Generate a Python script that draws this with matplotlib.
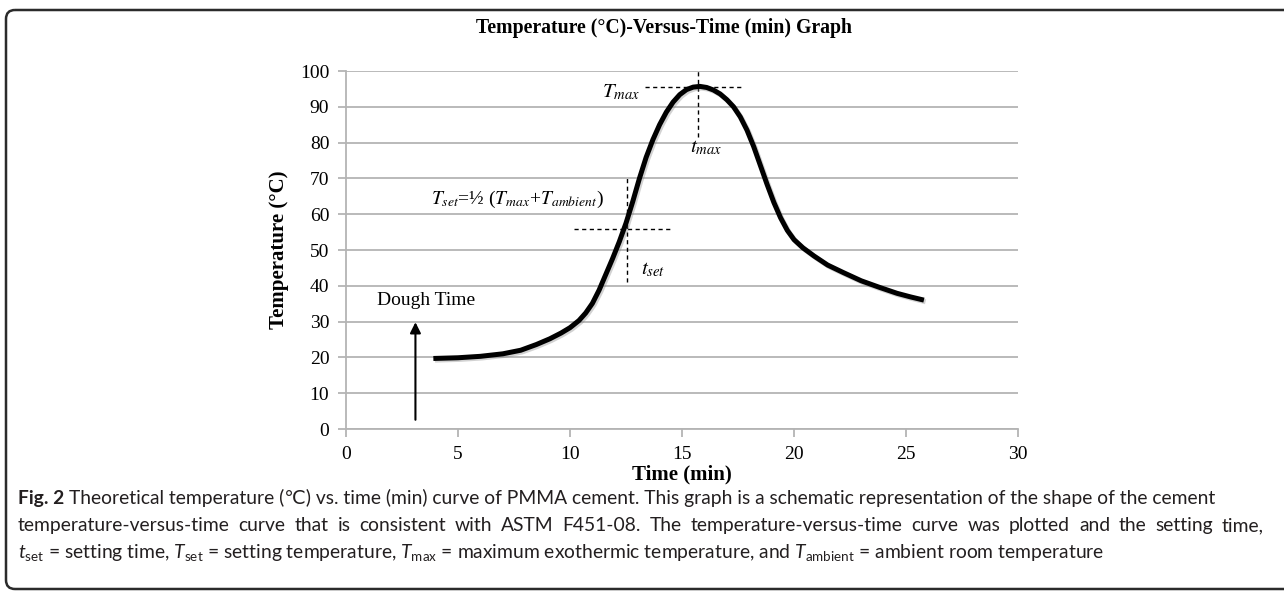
import matplotlib
matplotlib.use("Agg")
import matplotlib.pyplot as plt
import matplotlib.patheffects as pe
from matplotlib.patches import FancyBboxPatch

# Curve (min, degC)
time_min = [3.9, 5.0, 6.0, 7.0, 7.8, 8.5, 9.1, 9.6, 10.0, 10.4, 10.7, 11.0,
            11.3, 11.6, 11.9, 12.2, 12.5, 12.8, 13.1, 13.4, 13.7, 14.0, 14.3,
            14.6, 14.9, 15.2, 15.5, 15.8, 16.1, 16.4, 16.7, 17.0, 17.3, 17.6,
            17.9, 18.2, 18.5, 18.8, 19.1, 19.4, 19.7, 20.0, 20.4, 20.9, 21.5,
            22.2, 23.0, 23.8, 24.6, 25.2, 25.8]
temp_c = [19.7, 19.9, 20.3, 21.0, 22.0, 23.6, 25.2, 26.8, 28.3, 30.3, 32.4,
          35.1, 38.8, 43.2, 47.6, 52.3, 57.5, 63.5, 70.0, 75.9, 80.8, 85.0,
          88.5, 91.3, 93.4, 94.8, 95.5, 95.7, 95.4, 94.7, 93.6, 92.0, 90.0,
          87.2, 83.5, 78.9, 73.6, 68.3, 63.3, 59.0, 55.5, 52.9, 50.6, 48.3,
          45.8, 43.7, 41.4, 39.6, 37.9, 36.9, 36.0]

x_ticks = [0, 5, 10, 15, 20, 25, 30]
y_ticks = [0, 10, 20, 30, 40, 50, 60, 70, 80, 90, 100]

t_max, T_max = 15.7, 95.4
t_set, T_set = 12.56, 55.9
dough_time = 3.1

title = "Temperature (°C)-Versus-Time (min) Graph"
caption_lines = [
    "Theoretical temperature (℃) vs. time (min) curve of PMMA cement. This graph is a schematic representation of the shape of the cement",
    "temperature-versus-time curve that is consistent with ASTM F451-08. The temperature-versus-time curve was plotted and the setting time,",
    r"$t_{\mathrm{set}}$ = setting time, $T_{\mathrm{set}}$ = setting temperature, "
    r"$T_{\mathrm{max}}$ = maximum exothermic temperature, and $T_{\mathrm{ambient}}$ = ambient room temperature",
]

SERIF = ["Liberation Serif", "DejaVu Serif"]
SANS = ["Lato", "DejaVu Sans"]
GRID = "#b4b4b4"
INK = "#231f20"

plt.rcParams.update({
    "mathtext.fontset": "custom",
    "mathtext.rm": "Lato",
    "mathtext.it": "Lato:italic",
    "mathtext.bf": "Lato:bold",
})

fig = plt.figure(figsize=(12.84, 5.93), dpi=100)

# page frame + caption drawn in pixel coordinates
page = fig.add_axes([0, 0, 1, 1], zorder=-1)
page.set_xlim(0, 1284)
page.set_ylim(593, 0)
page.axis("off")
page.add_patch(FancyBboxPatch((6, 10), 1300, 579,
                              boxstyle="round,pad=0,rounding_size=9",
                              fill=False, edgecolor="#2b2b2b", linewidth=1.8))

ax = fig.add_axes([346 / 1284, 164 / 593, 672 / 1284, 358 / 593])
line, = ax.plot(time_min, temp_c, color="black", linewidth=3.6,
                solid_capstyle="butt", solid_joinstyle="round", zorder=4)
line.set_path_effects([pe.SimpleLineShadow(offset=(1.2, -1.2), shadow_color="grey", alpha=0.35),
                       pe.Normal()])

ax.set_xlim(0, 30)
ax.set_ylim(0, 100)
ax.set_xticks(x_ticks)
ax.set_yticks(y_ticks)
ax.yaxis.grid(True, color=GRID, linewidth=1.3)
ax.set_axisbelow(True)
for side in ("top", "right"):
    ax.spines[side].set_visible(False)
for side in ("left", "bottom"):
    ax.spines[side].set_color(GRID)
    ax.spines[side].set_linewidth(1.3)
ax.tick_params(axis="both", colors=GRID, length=6, width=1.3, direction="out")
ax.tick_params(axis="both", labelcolor="black", labelsize=14, pad=6)
for lab in ax.get_xticklabels() + ax.get_yticklabels():
    lab.set_family(SERIF)

ax.set_xlabel("Time (min)", family=SERIF, fontsize=15, fontweight="bold", labelpad=1)
ax.set_ylabel("Temperature (°C)", family=SERIF, fontsize=15, fontweight="bold", labelpad=8)
fig.text(664 / 1284, 1 - 28 / 593, title, family=SERIF, fontsize=14.2,
         fontweight="bold", ha="center", va="center")

# guide lines
dash = dict(color="black", linewidth=1.0, linestyle=(0, (3, 2.5)), clip_on=False, zorder=3)
ax.plot([13.35, 17.72], [T_max, T_max], **dash)
ax.plot([t_max, t_max], [81.5, 100.3], **dash)
ax.plot([10.18, 14.58], [T_set, T_set], **dash)
ax.plot([t_set, t_set], [41.0, 70.5], **dash)

ax.annotate("", xy=(dough_time, 30.6), xytext=(dough_time, 1.8),
            arrowprops=dict(arrowstyle="-|>", color="black", lw=1.5, mutation_scale=16))
ax.text(1.37, 35.8, "Dough Time", family=SERIF, fontsize=14, ha="left", va="center")

mt = dict(family=SERIF, math_fontfamily="stix")
ax.text(13.12, 94.0, r"$T_{max}$", ha="right", va="center", fontsize=15, **mt)
ax.text(15.35, 78.6, r"$t_{max}$", ha="left", va="center", fontsize=15, **mt)
ax.text(13.15, 44.4, r"$t_{set}$", ha="left", va="center", fontsize=15, **mt)
ax.text(3.78, 64.0, r"$T_{set}$=½ ($T_{max}$+$T_{ambient}$)", ha="left", va="center",
        fontsize=14, **mt)

# caption
renderer = fig.canvas.get_renderer()
cap = dict(fontsize=13.9, color=INK, va="baseline", ha="left")


def width(s, **kw):
    t = page.text(0, 0, s, family=SANS, **cap, **kw)
    w = t.get_window_extent(renderer).width
    t.remove()
    return w


space = width("a a") - width("aa")
x0 = 18
page.text(x0, 504, "Fig. 2", family=SANS, fontweight="bold", **cap)
page.text(x0 + width("Fig. 2", fontweight="bold") + space, 504, caption_lines[0], family=SANS, **cap)

# second line is justified to the right margin
words = caption_lines[1].split()
widths = [width(w) for w in words]
gap = (1264 - x0 - sum(widths)) / (len(words) - 1)
x = x0
for w, wd in zip(words, widths):
    page.text(x, 531, w, family=SANS, **cap)
    x += wd + gap

page.text(x0, 558, caption_lines[2], family=SANS, **cap)

fig.savefig("out.png", dpi=100)
